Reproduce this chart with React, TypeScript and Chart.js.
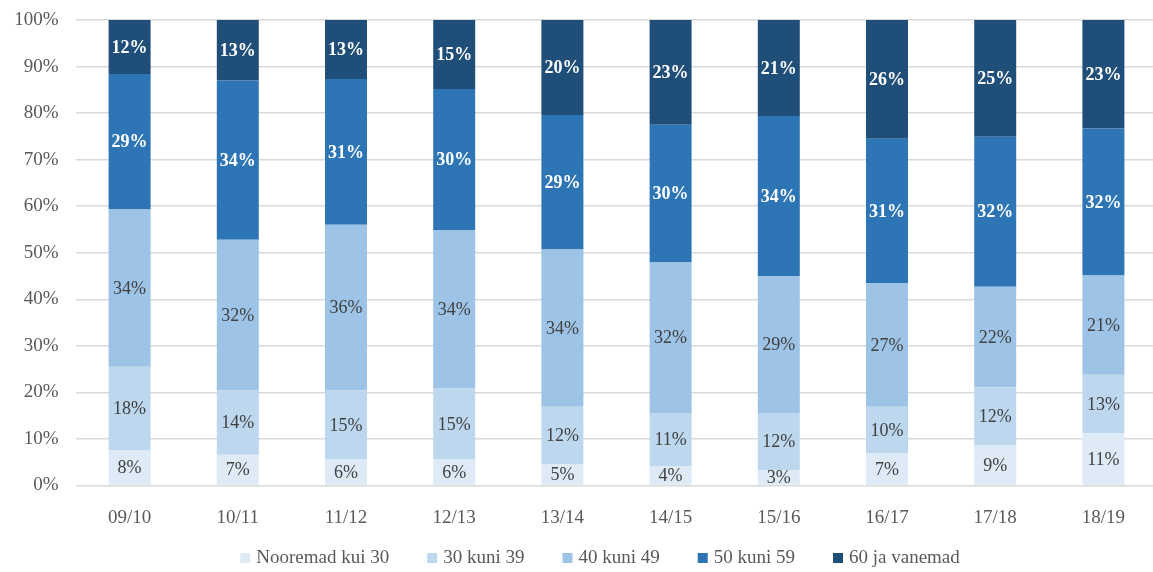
import React, { useEffect, useRef } from "react";
import { Chart, registerables } from "chart.js";

Chart.register(...registerables);

const categories = ["09/10", "10/11", "11/12", "12/13", "13/14", "14/15", "15/16", "16/17", "17/18", "18/19"];
const seriesNames = ["Nooremad kui 30", "30 kuni 39", "40 kuni 49", "50 kuni 59", "60 ja vanemad"];
const young = [7.6, 6.6, 5.6, 5.6, 4.6, 4.2, 3.2, 7.0, 8.7, 11.2];
const age30 = [17.9, 13.8, 14.8, 15.3, 12.3, 11.4, 12.4, 9.9, 12.4, 12.6];
const age40 = [33.8, 32.4, 35.6, 34.0, 33.8, 32.3, 29.4, 26.6, 21.6, 21.3];
const age50 = [29.1, 34.2, 31.3, 30.3, 28.9, 29.6, 34.4, 31.0, 32.2, 31.6];
const age60 = [11.6, 13.0, 12.7, 14.8, 20.4, 22.5, 20.6, 25.5, 25.1, 23.3];
const yTicks = [0, 10, 20, 30, 40, 50, 60, 70, 80, 90, 100];

const colors = ["#deebf7", "#bdd7ee", "#9dc3e6", "#2e75b6", "#1f4e79"];
const labelColors = ["#404040", "#404040", "#404040", "#ffffff", "#ffffff"];
const labelBold = [false, false, false, true, true];
const FONT = "'Liberation Serif', 'Times New Roman', serif";

const dataLabelPlugin = {
  id: "segLabels",
  afterDatasetsDraw(chart: any) {
    const ctx = chart.ctx;
    ctx.save();
    ctx.textAlign = "center";
    ctx.textBaseline = "middle";
    chart.data.datasets.forEach((ds: any, di: number) => {
      const meta = chart.getDatasetMeta(di);
      ctx.fillStyle = labelColors[di];
      ctx.font = (labelBold[di] ? "bold " : "") + "18px " + FONT;
      meta.data.forEach((bar: any, i: number) => {
        const v = ds.data[i];
        const cy = (bar.y + bar.base) / 2;
        ctx.fillText(Math.round(v) + "%", bar.x, cy + 1);
      });
    });
    ctx.restore();
  },
};

const legendPlugin = {
  id: "bottomLegend",
  afterDraw(chart: any) {
    const ctx = chart.ctx;
    ctx.save();
    ctx.font = "19px " + FONT;
    ctx.textBaseline = "middle";
    const box = 10;
    const gapBox = 6;
    const gap = 38;
    const widths = seriesNames.map((n) => box + gapBox + ctx.measureText(n).width);
    const total = widths.reduce((a, b) => a + b, 0) + gap * (seriesNames.length - 1);
    let x = 600 - total / 2;
    const y = chart.height - 14;
    seriesNames.forEach((n, i) => {
      ctx.fillStyle = colors[i];
      ctx.fillRect(x, y - box / 2, box, box);
      ctx.fillStyle = "#595959";
      ctx.textAlign = "left";
      ctx.fillText(n, x + box + gapBox, y);
      x += widths[i] + gap;
    });
    ctx.restore();
  },
};

export default function App() {
  const ref = useRef<HTMLCanvasElement>(null);
  useEffect(() => {
    document.body.style.overflow = "hidden";
    document.documentElement.style.overflow = "hidden";
    const chart = new Chart(ref.current as HTMLCanvasElement, {
      type: "bar",
      data: {
        labels: categories,
        datasets: [young, age30, age40, age50, age60].map((d, i) => ({
          label: seriesNames[i],
          data: d,
          backgroundColor: colors[i],
          borderWidth: 0,
          categoryPercentage: 1,
          barPercentage: 0.388,
        })),
      },
      options: {
        animation: false,
        responsive: false,
        maintainAspectRatio: false,
        layout: { padding: { left: 0, right: 2.5, top: 20, bottom: 46.5 } },
        plugins: {
          legend: { display: false },
          tooltip: { enabled: false },
        },
        scales: {
          x: {
            stacked: true,
            grid: { display: false },
            border: { display: false },
            ticks: {
              color: "#595959",
              font: { family: FONT, size: 19 },
              padding: 13,
              maxRotation: 0,
            },
            afterFit: (s: any) => {
              s.height = 40;
            },
          },
          y: {
            stacked: true,
            min: 0,
            max: 100,
            afterBuildTicks: (s: any) => {
              s.ticks = yTicks.map((v) => ({ value: v }));
            },
            grid: { color: "#d9d9d9", lineWidth: 1.5, drawTicks: false },
            border: { display: false },
            ticks: {
              color: "#595959",
              font: { family: FONT, size: 19 },
              padding: 17,
              callback: (v: any) => v + "%",
            },
            afterFit: (s: any) => {
              s.width = 75.5;
              s.paddingTop = 0;
              s.paddingBottom = 0;
            },
          },
        },
      },
      plugins: [dataLabelPlugin, legendPlugin],
    });
    return () => chart.destroy();
  }, []);
  return (
    <div style={{ position: "absolute", left: 0, top: 0, width: 1160, height: 572 }}>
      <canvas ref={ref} width={1160} height={572} style={{ display: "block" }} />
    </div>
  );
}
